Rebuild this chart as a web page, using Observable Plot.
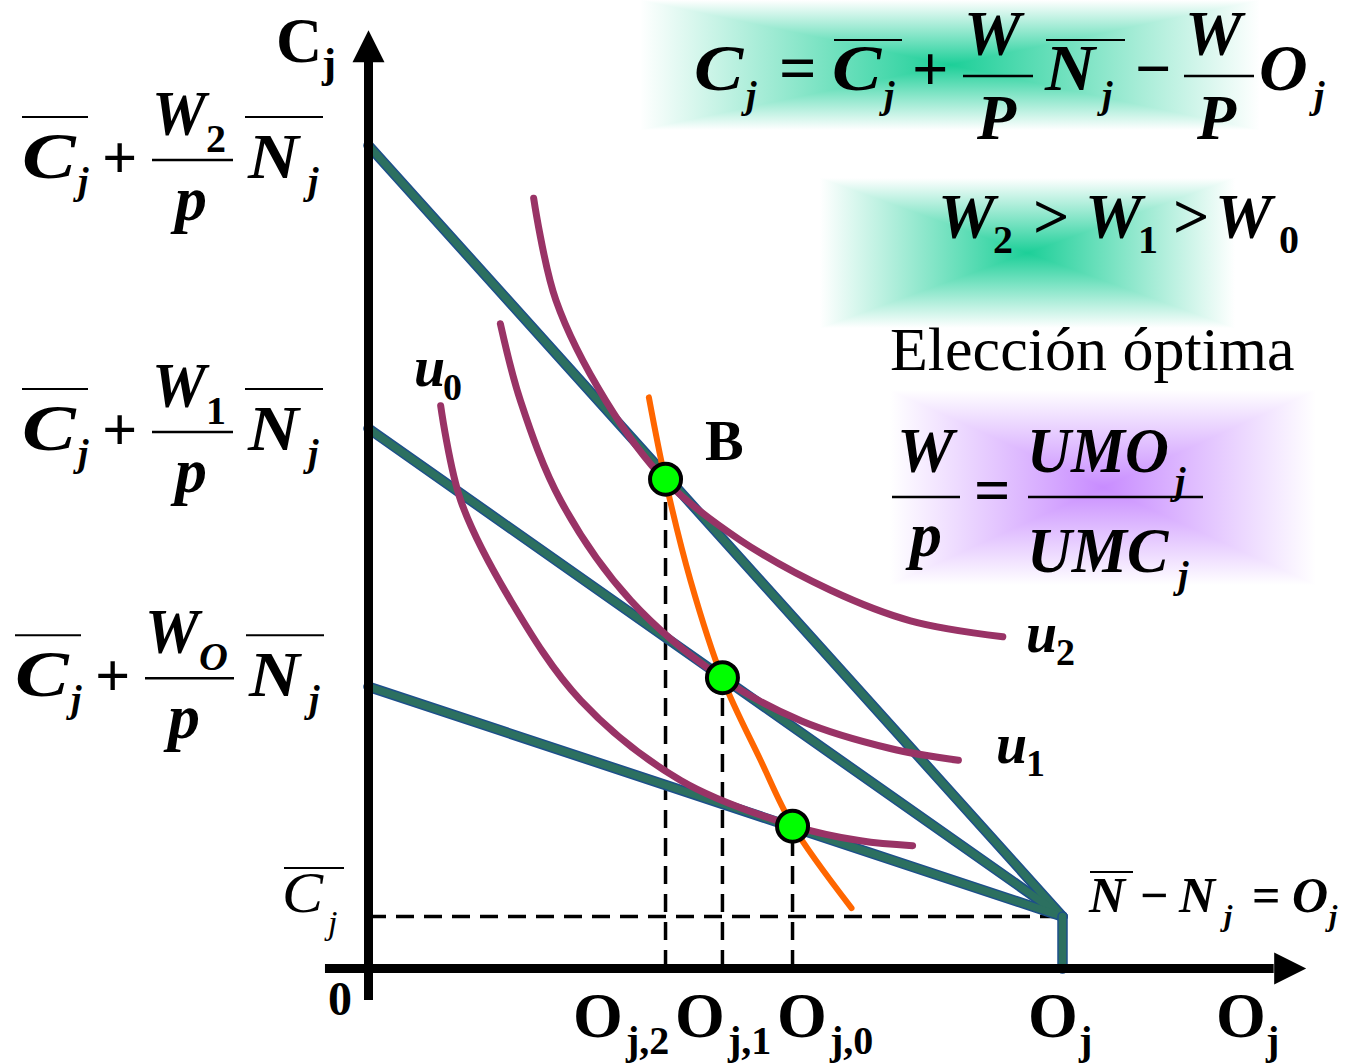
<!DOCTYPE html>
<html><head><meta charset="utf-8">
<script src="https://cdn.jsdelivr.net/npm/d3@7"></script>
<script src="https://cdn.jsdelivr.net/npm/@observablehq/plot@0.6"></script>
<style>body{margin:0;background:#fff}#chart svg{display:block}</style>
</head><body><div id="chart"></div>
<script>
// ---- data (abstract units: O_j on x, C_j on y) ----
const endowment = 10;                 // O_j where N̄ − N_j = O_j
const cBar = 0.75;                    // C̄_j
const wages = ["W2", "W1", "W0"];
const intercepts = [11.86, 7.78, 4.06]; // C̄_j + (W/p) N̄_j
const optX = [4.28, 5.10, 6.11];        // O_j,2  O_j,1  O_j,0
const optY = [7.05, 4.19, 2.05];
const u2X = [2.38, 2.70, 3.42, 4.28, 5.36, 6.66, 7.81, 9.14];
const u2Y = [11.10, 9.63, 8.18, 7.03, 6.17, 5.45, 5.01, 4.78];
const u1X = [1.90, 2.19, 2.77, 3.78, 5.10, 6.23, 7.52, 8.50];
const u1Y = [9.29, 8.18, 6.74, 5.30, 4.18, 3.57, 3.17, 3.00];
const u0X = [1.04, 1.33, 2.05, 3.06, 4.50, 6.11, 7.09, 7.84];
const u0Y = [8.11, 6.74, 5.30, 3.86, 2.71, 2.06, 1.84, 1.77];
const offerX = [4.04, 4.28, 4.64, 5.10, 5.65, 6.11, 6.96];
const offerY = [8.23, 7.03, 5.59, 4.18, 3.00, 2.06, 0.87];
const tickSubs = ["j,2", "j,1", "j,0"];

// ---- derived tables ----
const budget = wages.flatMap((w, i) => [{w, x: 0, y: intercepts[i]}, {w, x: endowment, y: cBar}]);
const corner = [{x: endowment, y: cBar}, {x: endowment, y: 0}];
const curves = [["u2", u2X, u2Y], ["u1", u1X, u1Y], ["u0", u0X, u0Y]]
  .flatMap(([u, xs, ys]) => xs.map((x, i) => ({u, x, y: ys[i]})));
const offer = offerX.map((x, i) => ({x, y: offerY[i]}));
const opt = optX.map((x, i) => ({x, y: optY[i]}));

const unit = 69.4;
const W = 1348, H = 1064, ox = 368, oy = 968;
const arrowSym = {draw(ctx, size) {const r = Math.sqrt(size / Math.PI); ctx.moveTo(0, -2 * r); ctx.lineTo(r, 0); ctx.lineTo(-r, 0); ctx.closePath();}};
const yTop = 13.06, xRight = 13.05;

const chart = Plot.plot({
  width: W, height: H, margin: 0,
  style: {background: "transparent"},
  x: {domain: [-ox / unit, (W - ox) / unit], axis: null},
  y: {domain: [(oy - H) / unit, oy / unit], axis: null},
  marks: [
    Plot.ruleX(opt, {x: "x", y1: 0, y2: "y", stroke: "black", strokeWidth: 3.5, strokeDasharray: "18,10"}),
    Plot.ruleY([cBar], {x1: 0, x2: endowment, stroke: "black", strokeWidth: 3.5, strokeDasharray: "18,10"}),
    Plot.line(budget, {x: "x", y: "y", z: "w", stroke: "#1d4f8a", strokeWidth: 10.5}),
    Plot.line(budget, {x: "x", y: "y", z: "w", stroke: "#2c7060", strokeWidth: 7.5}),
    Plot.line(corner, {x: "x", y: "y", stroke: "#1d4f8a", strokeWidth: 10.5}),
    Plot.line(corner, {x: "x", y: "y", stroke: "#2c7060", strokeWidth: 7.5}),
    Plot.line(curves, {x: "x", y: "y", z: "u", stroke: "#993366", strokeWidth: 7, curve: "catmull-rom"}),
    Plot.line(offer, {x: "x", y: "y", stroke: "#ff6600", strokeWidth: 6, curve: "catmull-rom"}),
    Plot.ruleX([0], {y1: -0.46, y2: yTop, stroke: "black", strokeWidth: 9}),
    Plot.ruleY([0], {x1: -0.62, x2: xRight, stroke: "black", strokeWidth: 9}),
    Plot.dot([{x: 0, y: yTop}], {x: "x", y: "y", symbol: arrowSym, r: 16, fill: "black", stroke: null}),
    Plot.dot([{x: xRight, y: 0}], {x: "x", y: "y", symbol: arrowSym, r: 16, rotate: 90, fill: "black", stroke: null}),
    Plot.dot(opt, {x: "x", y: "y", r: 15.5, fill: "#00ff00", stroke: "black", strokeWidth: 4})
  ]
});
document.getElementById("chart").append(chart);

const X = chart.scale("x").apply, Y = chart.scale("y").apply;
const svg = d3.select(chart);
const defs = svg.insert("defs", ":first-child");
const bg = svg.insert("g", "defs + *");
const serif = "'Liberation Serif','Times New Roman',serif";

function patch(id, x0, y0, x1, y1, color) {
  const cx = (x0 + x1) / 2, cy = (y0 + y1) / 2;
  const tris = [
    {pts: [[cx, cy], [x0, y0], [x1, y0]], to: [cx, y0]},
    {pts: [[cx, cy], [x1, y0], [x1, y1]], to: [x1, cy]},
    {pts: [[cx, cy], [x1, y1], [x0, y1]], to: [cx, y1]},
    {pts: [[cx, cy], [x0, y1], [x0, y0]], to: [x0, cy]}];
  tris.forEach((t, i) => {
    const gid = id + i;
    const lg = defs.append("linearGradient").attr("id", gid).attr("gradientUnits", "userSpaceOnUse")
      .attr("x1", cx).attr("y1", cy).attr("x2", t.to[0]).attr("y2", t.to[1]);
    lg.append("stop").attr("offset", 0).attr("stop-color", color).attr("stop-opacity", 1);
    lg.append("stop").attr("offset", 1).attr("stop-color", color).attr("stop-opacity", 0);
    bg.append("polygon").attr("points", t.pts.map(p => p.join(",")).join(" "))
      .attr("fill", `url(#${gid})`).attr("shape-rendering", "crispEdges");
  });
}
patch("gA", 640, 0, 1260, 130, "#1ccf98");
patch("gB", 820, 178, 1235, 328, "#1ccf98");
patch("gC", 890, 390, 1316, 585, "#c88cff");

const tg = svg.append("g").attr("font-family", serif).attr("fill", "black").attr("text-anchor", "start");
function put(s, x, y, size, italic = true, bold = true, sx = 1) {
  return tg.append("text").attr("x", 0).attr("y", 0).attr("font-size", size)
    .attr("text-anchor", "start")
    .attr("font-style", italic ? "italic" : "normal").attr("font-weight", bold ? "bold" : "normal")
    .attr("transform", `translate(${x},${y}) scale(${sx},1)`).text(s);
}
function bar(x1, x2, y, w = 2.5) {
  tg.append("line").attr("x1", x1).attr("x2", x2).attr("y1", y).attr("y2", y).attr("stroke", "black").attr("stroke-width", w);
}

// left budget-intercept labels
const subs = ["2", "1", "O"];
const leftX = [22, 22, 15];
const barDy = [15, 4, -8];
intercepts.forEach((v, i) => {
  const x0 = leftX[i], yb = Y(v) + barDy[i];
  const wide = i === 2 ? 8 : 0;
  bar(x0, x0 + 66, yb - 43, 2);
  put("C", x0, yb + 18, 66, true, true, 1.22);
  put("j", x0 + 56, yb + 34, 38);
  put("+", x0 + 80, yb + 18, 62, false, true);
  put("W", x0 + 130, yb - 25, 64, true, true, 0.95);
  put(subs[i], x0 + 184, yb - 8, 40, subs[i] === "O", true);
  bar(x0 + 130, x0 + 211 + wide, yb);
  put("p", x0 + 153, yb + 60, 64);
  bar(x0 + 223 + wide, x0 + 301 + wide, yb - 43, 2);
  put("N", x0 + 226 + wide, yb + 18, 64, true, true, 1.1);
  put("j", x0 + 286 + wide, yb + 34, 38);
});

// C̄_j label
put("C", 282, Y(cBar) - 4, 56, true, false, 1.1);
bar(284, 344, Y(cBar) - 48, 2);
put("j", 328, Y(cBar) + 18, 34, true, false);

// axis labels
put("C", 276, 62, 64, false, true);
put("j", 322, 77, 42, false, true);
put("0", 328, 1015, 48, false, true);
const tickStart = [573, 675, 777];
optX.forEach((x, i) => {
  put("O", tickStart[i], 1037, 64, false, true);
  put(tickSubs[i], tickStart[i] + 53, 1054, 40, false, true);
});
put("O", X(endowment) - 34, 1037, 64, false, true);
put("j", X(endowment) + 17, 1054, 40, false, true);
put("O", 1216, 1037, 64, false, true);
put("j", 1266, 1054, 40, false, true);

// curve labels
put("B", 705, 460, 58, false, true);
put("u", 414, 386, 56); put("0", 443, 400, 38, false, true);
put("u", 1026, 652, 56); put("2", 1056, 665, 38, false, true);
put("u", 996, 763, 56); put("1", 1026, 776, 38, false, true);

// N̄ − N_j = O_j
bar(1090, 1133, 872, 2);
put("N", 1089, 912, 50);
put("\u2212", 1140, 912, 50, false, true);
put("N", 1179, 912, 50);
put("j", 1224, 926, 30);
put("=", 1252, 912, 50, false, true);
put("O", 1292, 912, 50);
put("j", 1329, 926, 30);

// top formula
put("C", 694, 90, 66, true, true, 1.12);
put("j", 746, 108, 38);
put("=", 779, 90, 66, false, true);
bar(834, 902, 40, 2);
put("C", 832, 90, 66, true, true, 1.12);
put("j", 884, 108, 38);
put("+", 912, 90, 64, false, true);
put("W", 964, 55, 64);
bar(963, 1033, 76);
put("P", 977, 139, 64);
bar(1046, 1125, 40, 2);
put("N", 1045, 90, 66, true, true, 1.05);
put("j", 1102, 108, 38);
put("\u2212", 1135, 90, 64, false, true);
put("W", 1185, 55, 64);
bar(1184, 1254, 76);
put("P", 1197, 139, 64);
put("O", 1259, 90, 66, true, true, 1.02);
put("j", 1314, 108, 38);

// W2 > W1 > W0
put("W", 938, 238, 64); put("2", 993, 253, 40, false, true);
put(">", 1033, 238, 64, false, true);
put("W", 1085, 238, 64); put("1", 1138, 253, 40, false, true);
put(">", 1173, 238, 64, false, true);
put("W", 1215, 238, 64); put("0", 1279, 253, 40, false, true);

// Elección óptima
put("Elección óptima", 890, 370, 62, false, false);

// W/p = UMO/UMC
put("W", 897, 472, 64);
bar(892, 960, 497);
put("p", 910, 556, 64);
put("=", 974, 512, 64, false, true);
put("UMO", 1027, 472, 64, true, true, 0.95);
put("j", 1175, 494, 38);
bar(1028, 1203, 497);
put("UMC", 1027, 572, 64, true, true, 0.97);
put("j", 1178, 588, 38);
</script></body></html>
